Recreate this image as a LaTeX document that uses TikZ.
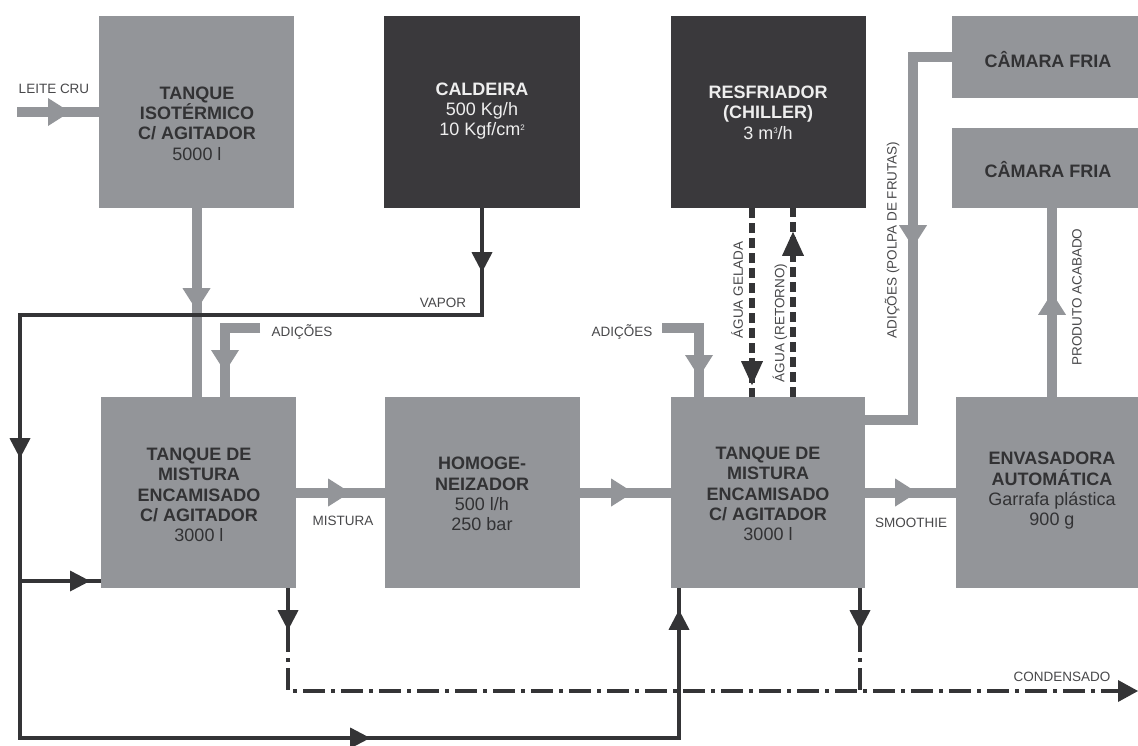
\documentclass[tikz,border=0pt]{standalone}
\usepackage{fontspec}
\setmainfont{Liberation Sans}
\usetikzlibrary{decorations.markings}
\definecolor{boxgray}{RGB}{147,149,153}
\definecolor{boxdark}{RGB}{58,57,60}
\definecolor{lineblk}{RGB}{52,52,54}
\definecolor{txtdark}{RGB}{50,50,52}
\definecolor{txtlight}{RGB}{238,238,238}
\definecolor{lbl}{RGB}{72,72,74}
\newcommand{\smallsup}[1]{\raisebox{5.5pt}{\fontsize{8}{8}\selectfont #1}}
\begin{document}
\begin{tikzpicture}[x=1pt,y=-1pt,
  gbox/.style={fill=boxgray,draw=none,inner sep=0pt},
  dbox/.style={fill=boxdark,draw=none,inner sep=0pt},
  btxt/.style={align=center,text=txtdark,font=\fontsize{18}{20.3}\selectfont,inner sep=0pt},
  wtxt/.style={btxt,text=txtlight},
  lab/.style={text=lbl,font=\fontsize{13.5}{15}\selectfont,inner sep=0pt},
  pipe/.style={draw=boxgray,line width=10pt,line join=miter},
  blk/.style={draw=lineblk,line width=4pt,line join=miter},
  chw/.style={draw=lineblk,line width=5.5pt,dash pattern=on 10pt off 5pt},
  dashdot/.style={draw=lineblk,line width=4pt,dash pattern=on 22pt off 6pt on 4pt off 6pt,dash phase=22pt},
  garr/.style={postaction={decorate,decoration={markings,mark=at position #1 with {\fill[boxgray] (0pt,0pt) -- (-22pt,14pt) -- (-22pt,-14pt) -- cycle;}}}},
  barr/.style={postaction={decorate,decoration={markings,mark=at position #1 with {\fill[lineblk] (0pt,0pt) -- (-20pt,10.5pt) -- (-20pt,-10.5pt) -- cycle;}}}},
  darr/.style={postaction={decorate,decoration={markings,mark=at position #1 with {\fill[lineblk] (0pt,0pt) -- (-24pt,11pt) -- (-24pt,-11pt) -- cycle;}}}}
]
\useasboundingbox (0,0) rectangle (1138,745);

% boxes
\node[gbox,minimum width=195pt,minimum height=192pt] (iso) at (196.5,112) {};
\node[dbox,minimum width=196pt,minimum height=192pt] (cald) at (482,112) {};
\node[dbox,minimum width=195pt,minimum height=192pt] (ch) at (768.5,112) {};
\node[gbox,minimum width=186pt,minimum height=82pt] (cf1) at (1045,57) {};
\node[gbox,minimum width=186pt,minimum height=80pt] (cf2) at (1045,168) {};
\node[gbox,minimum width=195pt,minimum height=191pt] (t1) at (198.5,492.5) {};
\node[gbox,minimum width=195pt,minimum height=191pt] (hom) at (482.5,492.5) {};
\node[gbox,minimum width=194pt,minimum height=191pt] (t2) at (768,492.5) {};
\node[gbox,minimum width=182pt,minimum height=191pt] (env) at (1047,492.5) {};

% box texts
\node[btxt] (isoT) at (197,123.5) {\textbf{TANQUE}\\\textbf{ISOTÉRMICO}\\\textbf{C/ AGITADOR}\\5000 l};
\node[wtxt] (caldT) at (482,111) {\textbf{CALDEIRA}\\500 Kg/h\\10 Kgf/cm\smallsup{2}};
\node[wtxt] (chT) at (768,112.5) {\textbf{RESFRIADOR}\\\textbf{(CHILLER)}\\3 m\smallsup{3}/h};
\node[btxt] (cf1T) at (1048,60) {\textbf{CÂMARA FRIA}};
\node[btxt] (cf2T) at (1048,170) {\textbf{CÂMARA FRIA}};
\node[btxt] (t1T) at (199,495) {\textbf{TANQUE DE}\\\textbf{MISTURA}\\\textbf{ENCAMISADO}\\\textbf{C/ AGITADOR}\\3000 l};
\node[btxt] (homT) at (482,494) {\textbf{HOMOGE-}\\\textbf{NEIZADOR}\\500 l/h\\250 bar};
\node[btxt] (t2T) at (768,494) {\textbf{TANQUE DE}\\\textbf{MISTURA}\\\textbf{ENCAMISADO}\\\textbf{C/ AGITADOR}\\3000 l};
\node[btxt] (envT) at (1052,491) {\textbf{ENVASADORA}\\\textbf{AUTOMÁTICA}\\Garrafa plástica\\900 g};

% coordinates
\coordinate (leite) at (17,112);
\coordinate (ad1) at (260,328);
\coordinate (ad1c) at (225,328);
\coordinate (ad2) at (662,328);
\coordinate (ad2c) at (699,328);
\coordinate (pA) at (913,57);
\coordinate (pB) at (913,420);
\coordinate (v1) at (482,315);
\coordinate (v2) at (20,315);
\coordinate (v3) at (20,738);
\coordinate (v4) at (679,738);
\coordinate (vb) at (20,581);
\coordinate (ag) at (752,300);
\coordinate (ar) at (793,300);
\coordinate (c1) at (288,652);
\coordinate (c1b) at (288,691);
\coordinate (c2) at (860,652);
\coordinate (c2b) at (860,691);
\coordinate (cend) at (1138,691);
\coordinate (pa) at (1052,300);

% gray pipes
\draw[pipe,garr=53pt] (leite) -- (iso.west |- leite);
\draw[pipe,garr=102pt] (iso.south) -- (iso.south |- t1.north);
\draw[pipe,garr=79pt] (ad1) -- (ad1c) -- (ad1c |- t1.north);
\draw[pipe,garr=54pt] (t1.east) -- (hom.west);
\draw[pipe,garr=53pt] (hom.east) -- (t2.west);
\draw[pipe,garr=86pt] (ad2) -- (ad2c) -- (ad2c |- t2.north);
\draw[pipe,garr=229pt] (cf1.west) -- (pA) -- (pB) -- (pB -| t2.east);
\draw[pipe,garr=52pt] (t2.east) -- (env.west);
\draw[pipe,garr=104pt] (pa |- env.north) -- (pa |- cf2.south);

% chilled water
\draw[chw,darr=177pt] (ag |- ch.south) -- (ag |- t2.north);
\draw[chw,darr=165pt] (ar |- t2.north) -- (ar |- ch.south);

% steam
\draw[blk,barr=64pt,barr=712pt,barr=1342pt,barr=1779pt] (cald.south) -- (v1) -- (v2) -- (v3) -- (v4) -- (v4 |- t2.south);
\draw[blk,barr=70pt] (vb) -- (vb -| t1.west);

% condensate
\draw[blk,barr=42pt] (c1 |- t1.south) -- (c1);
\draw[blk,barr=42pt] (c2 |- t2.south) -- (c2);
\draw[dashdot] (c1) -- (c1b) -- (cend);
\draw[dashdot] (c2) -- (c2b);
\fill[lineblk] (cend) -- ++(-20,-11) -- ++(0,22) -- cycle;

% labels
\node[lab] (lLeite) at (54,89) {LEITE CRU};
\node[lab] (lAd1) at (302,332) {ADIÇÕES};
\node[lab] (lVap) at (443,303) {VAPOR};
\node[lab] (lMis) at (343,521) {MISTURA};
\node[lab] (lAd2) at (622,332) {ADIÇÕES};
\node[lab,rotate=90] (lAg) at (737,290) {ÁGUA GELADA};
\node[lab,rotate=90] (lAr) at (780,323) {ÁGUA (RETORNO)};
\node[lab,rotate=90] (lPolpa) at (892,240) {ADIÇÕES (POLPA DE FRUTAS)};
\node[lab,rotate=90] (lProd) at (1077,297) {PRODUTO ACABADO};
\node[lab] (lSmo) at (911,523) {SMOOTHIE};
\node[lab] (lCond) at (1062,677) {CONDENSADO};
\end{tikzpicture}
\end{document}
